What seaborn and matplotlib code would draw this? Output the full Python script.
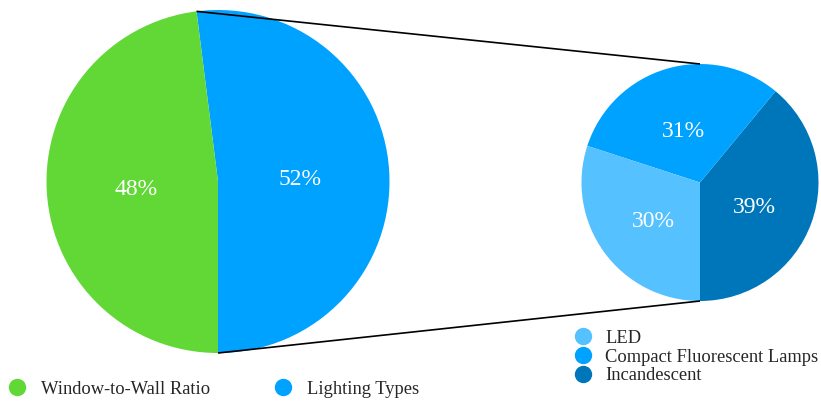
import numpy as np
import matplotlib
matplotlib.use("Agg")
import matplotlib.pyplot as plt
from matplotlib.lines import Line2D
import seaborn as sns

# ---- data ----
main_labels = ["Window-to-Wall Ratio", "Lighting Types"]
main_values = [48, 52]
main_colors = ["#61D836", "#00A2FF"]

sub_labels = ["LED", "Compact Fluorescent Lamps", "Incandescent"]
sub_values = [30, 31, 39]
sub_colors = ["#56C1FF", "#00A2FF", "#0076BA"]

sns.set_theme(style="white")
plt.rcParams["font.family"] = ["Liberation Serif", "DejaVu Serif"]

W, H = 821, 403
fig = plt.figure(figsize=(W / 100, H / 100), dpi=100)
ax = fig.add_axes([0, 0, 1, 1])

def py(y):
    return H - y

# big pie: order [Lighting, Window] starting at bottom, counterclockwise
big_c = (218, py(181.5)); big_r = 171.5
bw, _ = ax.pie([main_values[1], main_values[0]], colors=[main_colors[1], main_colors[0]],
               startangle=-90, counterclock=True, center=big_c, radius=big_r,
               wedgeprops=dict(linewidth=0))
big_txt = [f"{main_values[1]}%", f"{main_values[0]}%"]
for w, t in zip(bw, big_txt):
    a = np.deg2rad((w.theta1 + w.theta2) / 2)
    ax.text(big_c[0] + 0.48 * big_r * np.cos(a), big_c[1] + 0.48 * big_r * np.sin(a) - 3, t,
            ha="center", va="center", color="white", fontsize=17)

# small pie: [Incandescent, CFL, LED] starting at bottom
sm_c = (700, py(182.5)); sm_r = 118.5
sw, _ = ax.pie(sub_values[::-1], colors=sub_colors[::-1], startangle=-90, counterclock=True,
               center=sm_c, radius=sm_r, wedgeprops=dict(linewidth=0))
for w, v in zip(sw, sub_values[::-1]):
    a = np.deg2rad((w.theta1 + w.theta2) / 2)
    ax.text(sm_c[0] + 0.49 * sm_r * np.cos(a), sm_c[1] + 0.49 * sm_r * np.sin(a) - 5, f"{v}%",
            ha="center", va="center", color="white", fontsize=17)

# connecting lines
t_big = np.deg2rad(bw[0].theta2)
ax.plot([big_c[0] + big_r * np.cos(t_big), sm_c[0]],
        [big_c[1] + big_r * np.sin(t_big), sm_c[1] + sm_r], color="black", lw=1.2, solid_capstyle="butt")
ax.plot([big_c[0], sm_c[0]], [big_c[1] - big_r, sm_c[1] - sm_r], color="black", lw=1.2,
        solid_capstyle="butt")

ax.set_xlim(0, W)
ax.set_ylim(0, H)
ax.set_aspect("equal")
ax.axis("off")

# legends
h1 = [Line2D([], [], marker="o", linestyle="none", markersize=11.5, color=c) for c in main_colors]
leg1 = fig.legend(h1, main_labels, loc="center left", bbox_to_anchor=(2.5 / W, 1 - 389 / H),
                  ncol=2, frameon=False, fontsize=13.3, handletextpad=0.8, columnspacing=3.45,
                  handlelength=1.0, borderaxespad=0, borderpad=0.3)
h2 = [Line2D([], [], marker="o", linestyle="none", markersize=11.5, color=c) for c in sub_colors]
leg2 = fig.legend(h2, sub_labels, loc="center left", bbox_to_anchor=(568 / W, 1 - 357 / H),
                  ncol=1, frameon=False, fontsize=13.3, handletextpad=0.7, labelspacing=0.1,
                  handlelength=1.0, borderaxespad=0, borderpad=0.3)

fig.savefig("out.png", dpi=100)
